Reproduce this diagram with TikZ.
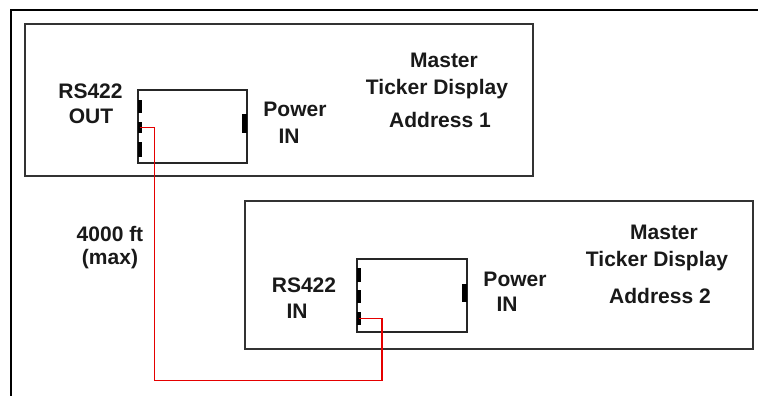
\documentclass[tikz,border=0pt]{standalone}
\usepackage{fontspec}
\setmainfont{Liberation Sans}
\begin{document}
\begin{tikzpicture}[x=1pt,y=-1pt,
  frame/.style={line width=2.5pt,black},
  display/.style={draw=black!80,line width=1.6pt,rectangle,inner sep=0pt,outer sep=0pt,anchor=north west},
  conn/.style={draw=black!85,line width=1.4pt,rectangle,inner sep=0pt,outer sep=0pt,anchor=north west},
  tick/.style={fill=black,rectangle,inner sep=0pt,outer sep=0pt,minimum width=4pt},
  lbl/.style={font=\bfseries\fontsize{21}{25}\selectfont,anchor=base,inner sep=0pt,text=black!90},
  cable/.style={draw=red!90!black,line width=1.4pt}]
\useasboundingbox (0,0) rectangle (758,396);
\fill[white] (0,0) rectangle (758,396);
% outer frame
\draw[frame] (770,10) -- (11,10) -- (11,400);
% display 1
\node[display,minimum width=508pt,minimum height=152pt] (d1) at (25,24) {};
\node[conn,minimum width=109pt,minimum height=73pt] (c1) at (138,90) {};
\node[tick,minimum height=13pt] (t1a) at (139.5,106.5) {};
\node[tick,minimum height=11pt] (t1b) at (139.5,127.5) {};
\node[tick,minimum height=15pt] (t1c) at (139.5,149.5) {};
\node[tick,minimum height=19pt,minimum width=4.5pt] (pw1) at (244.5,123.5) {};
% display 2
\node[display,minimum width=508pt,minimum height=148pt] (d2) at (245,201) {};
\node[conn,minimum width=110pt,minimum height=73pt] (c2) at (357,259) {};
\node[tick,minimum height=14pt] (t2a) at (358.5,275) {};
\node[tick,minimum height=13pt] (t2b) at (358.5,296.5) {};
\node[tick,minimum height=13pt] (t2c) at (358.5,318.5) {};
\node[tick,minimum height=18pt,minimum width=4.5pt] (pw2) at (464.5,293) {};
% labels display 1
\node[lbl] (rs1) at (90.5,99) {RS422};
\node[lbl] (out1) at (91,124) {OUT};
\node[lbl] (pow1) at (295,117) {Power};
\node[lbl] (in1) at (289,143) {IN};
\node[lbl] (m1) at (444,67) {Master};
\node[lbl] (td1) at (437,95) {Ticker Display};
\node[lbl] (a1) at (440,127) {Address 1};
% labels display 2
\node[lbl] (rs2) at (304,292) {RS422};
\node[lbl] (in2) at (297,318) {IN};
\node[lbl] (pow2) at (515,286) {Power};
\node[lbl] (pin2) at (507,311) {IN};
\node[lbl] (m2) at (664,239) {Master};
\node[lbl] (td2) at (657,266) {Ticker Display};
\node[lbl] (a2) at (660,303) {Address 2};
% cable label
\node[lbl] (len) at (110,241) {4000 ft};
\node[lbl] (mx) at (110,264) {(max)};
% cable
\coordinate (bend1) at (154.5,380.5);
\coordinate (bend2) at (382,380.5);
\draw[cable] (t1b.center) -| (bend1) -- (bend2) |- (t2c.center);
\end{tikzpicture}
\end{document}
